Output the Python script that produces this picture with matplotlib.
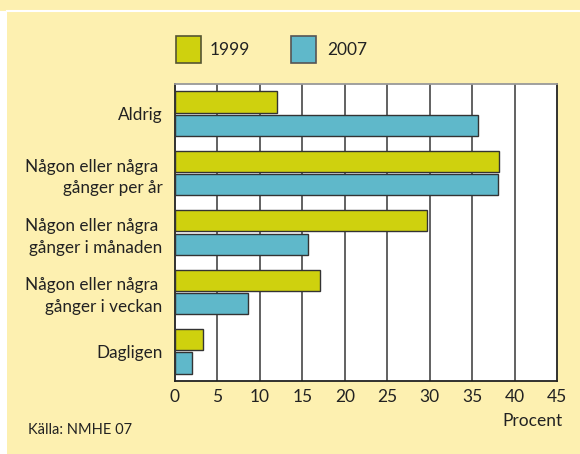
import matplotlib.pyplot as plt
import matplotlib.patches as mpatches
import numpy as np

plt.rcParams['font.family'] = ['Lato', 'DejaVu Sans']

# Data
categories = ['Aldrig', 'Någon eller några \ngånger per år', 'Någon eller några \ngånger i månaden',
              'Någon eller några \ngånger i veckan', 'Dagligen']
values_1999 = [12.0, 38.2, 29.7, 17.1, 3.3]
values_2007 = [35.7, 38.0, 15.7, 8.6, 2.0]
series_labels = ['1999', '2007']
xticks = [0, 5, 10, 15, 20, 25, 30, 35, 40, 45]

bg = '#fdf0b0'
c1999 = '#cfd10e'
c2007 = '#5fb8ca'
edge = '#333333'

W, H = 580, 454
fig = plt.figure(figsize=(W / 100, H / 100), dpi=100)
fig.patch.set_facecolor(bg)

# white left strip and white line near the top
fig.add_artist(mpatches.Rectangle((0, 0), 7 / W, 1 - 11 / H, transform=fig.transFigure,
                                  facecolor='white', edgecolor='none', zorder=0))
fig.add_artist(plt.Line2D([7 / W, 1], [1 - 11 / H, 1 - 11 / H], transform=fig.transFigure,
                          color='white', linewidth=1.5))

# plot area: x 175..557, y 84..381 (pixels)
ax = fig.add_axes([175 / W, 1 - 381 / H, (557 - 175) / W, (381 - 84) / H])
ax.set_facecolor('white')

y = np.arange(len(categories))
h = 0.355
gap = 0.02
ax.barh(y - gap - h / 2, values_1999, height=h, color=c1999, edgecolor=edge, linewidth=1, zorder=3)
ax.barh(y + gap + h / 2, values_2007, height=h, color=c2007, edgecolor=edge, linewidth=1, zorder=3)

ax.set_xlim(0, 45)
ax.set_ylim(len(categories) - 0.5, -0.5)
ax.set_xticks(xticks)
ax.set_xticklabels([str(t) for t in xticks], fontsize=12.5, color='#222222')
ax.set_yticks(y)
ax.set_yticklabels(categories, fontsize=12.3, color='#222222', linespacing=1.45)
for lab in ax.get_yticklabels():
    lab.set_horizontalalignment('right')
ax.tick_params(axis='both', length=0)
ax.tick_params(axis='y', pad=9)
ax.tick_params(axis='x', pad=6)
for t in xticks[1:-1]:
    ax.axvline(t, color='#555555', linewidth=1.3, zorder=1)

for s in ['left', 'bottom', 'right']:
    ax.spines[s].set_color('#222222')
    ax.spines[s].set_linewidth(1.3)
ax.spines['top'].set_color('#999999')
ax.spines['top'].set_linewidth(1.3)

# legend, drawn by hand to match positions
colors = [c1999, c2007]
edges = ['#555533', '#555555']
box_x = [176, 291]
text_x = [210, 327]
for lab, col, ec, bx, tx in zip(series_labels, colors, edges, box_x, text_x):
    fig.add_artist(mpatches.Rectangle((bx / W, 1 - 63 / H), 25 / W, 27 / H, transform=fig.transFigure,
                                      facecolor=col, edgecolor=ec, linewidth=1.2))
    fig.text(tx / W, 1 - 50 / H, lab, ha='left', va='center', fontsize=12.5, color='#222222')

fig.text(563 / W, 1 - 421 / H, 'Procent', ha='right', va='center', fontsize=12.5, color='#222222')
fig.text(28 / W, 1 - 430 / H, 'Källa: NMHE 07', ha='left', va='center', fontsize=10.5, color='#222222')

fig.savefig('out.png', dpi=100, facecolor=bg)
